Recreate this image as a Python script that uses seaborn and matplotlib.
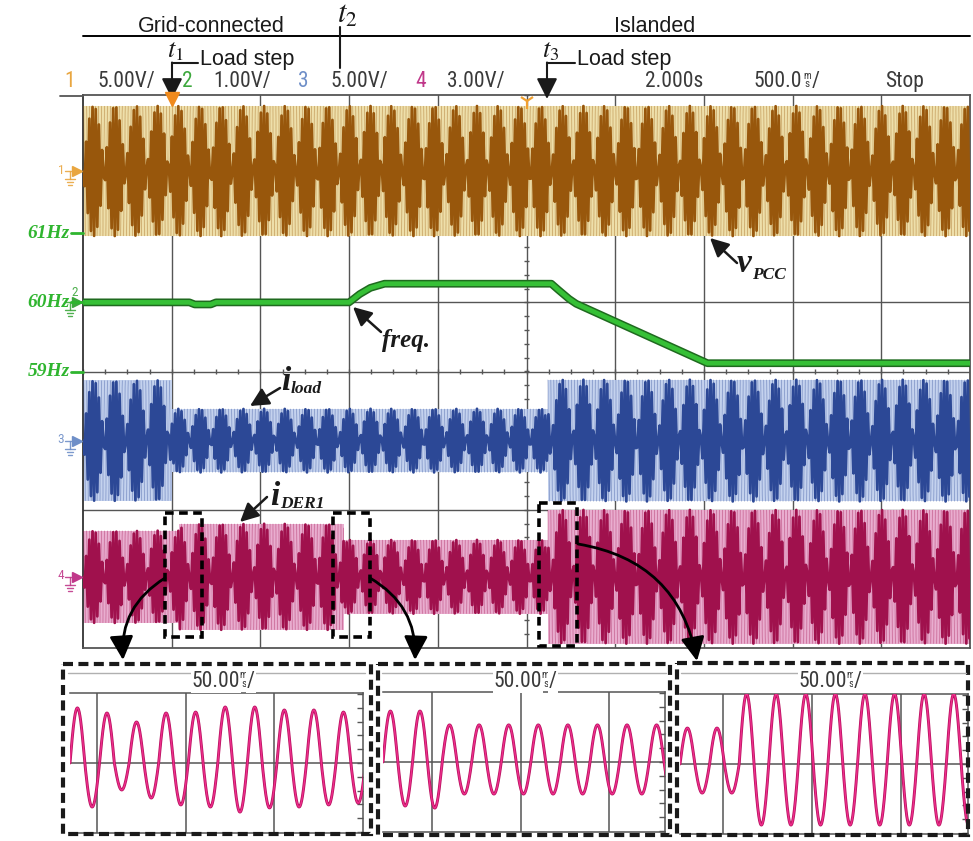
import numpy as np
import matplotlib
matplotlib.use("Agg")
import matplotlib.pyplot as plt
from matplotlib import font_manager
from matplotlib.patches import Rectangle, FancyArrowPatch
import seaborn as sns

# ---------------- data ----------------
channel_ids = ["1", "2", "3", "4"]
channel_scales = ["5.00V/", "1.00V/", "5.00V/", "3.00V/"]
volts_per_div = [5.0, 1.0, 5.0, 3.0]
trace_offsets_div = [2.9, 1.0, -1.0, -2.97]
record_length_s = 5.0
time_per_div_s = 0.5
line_freq_hz = 60.0
freq_ref_hz = 60.0
freq_labels = ["61Hz", "60Hz", "59Hz"]
freq_label_values = [61.0, 60.0, 59.0]

# AC amplitude by segment: segment start time (s) and peak value (V)
vpcc_seg_start = [0.0]
vpcc_seg_amp = [4.7]
iload_seg_start = [0.0, 0.50, 2.62]
iload_seg_amp = [4.35, 2.3, 4.4]
ider_seg_start = [0.0, 0.54, 1.47, 2.62]
ider_seg_amp = [2.0, 2.3, 1.6, 2.9]

# measured frequency (Hz) at breakpoints (s)
freq_time = [0.0, 0.60, 0.63, 0.72, 0.75, 1.50, 1.56, 1.62, 1.70,
             2.64, 2.68, 2.74, 2.78, 3.52, 5.0]
freq_hz = [60.0, 60.0, 59.97, 59.97, 60.0, 60.0, 60.12, 60.21, 60.27,
           60.27, 60.18, 60.05, 59.98, 59.12, 59.12]

# zoomed i_DER1 windows: peak and trough of each cycle (V)
inset1_peak = [2.39, 2.17, 1.78, 2.17, 2.21, 2.43, 2.43, 2.30, 2.30, 2.21]
inset1_trough = [1.91, 1.17, 1.52, 1.82, 1.91, 2.13, 1.95, 1.91, 1.82, 1.74]
inset2_peak = [2.21, 2.21, 1.61, 1.61, 1.61, 1.61, 1.61, 1.61, 1.61, 1.61]
inset2_trough = [1.91, 2.00, 1.39, 1.39, 1.39, 1.39, 1.39, 1.39, 1.39, 1.39]
inset3_peak = [1.56, 1.56, 3.04, 3.04, 3.04, 3.04, 3.04, 3.04, 3.04, 3.04]
inset3_trough = [1.26, 1.26, 2.65, 2.65, 2.65, 2.65, 2.65, 2.65, 2.65, 2.65]
inset_time_per_div_ms = 50.0
inset_volts_per_div = 3.0

# ---------------- style ----------------
sns.set_theme(style="white")
plt.rcParams["font.family"] = ["Liberation Sans", "DejaVu Sans"]
plt.rcParams["mathtext.fontset"] = "stix"
plt.rcParams["axes.unicode_minus"] = False

_names = {f.name for f in font_manager.fontManager.ttflist}
scope_family = next((f for f in ["Liberation Sans Narrow", "DejaVu Sans Condensed",
                                 "Roboto Condensed", "Open Sans Condensed"] if f in _names),
                    "DejaVu Sans")
narrow = scope_family != "DejaVu Sans"
scope_fs = 15.5 if narrow else 12.0
serif = ["Liberation Serif", "DejaVu Serif"]

ch_dark = ["#98570C", "#1f6a1f", "#2C4896", "#A0114D"]
ch_light = ["#EEDFAA", "#36c036", "#C4D2EE", "#E9ADCF"]
ch_tag = ["#E9A640", "#3DA83D", "#6F8FC8", "#C0388A"]
label_green = "#2FB52F"
scope_grey = "#3a3a3a"
grid_col = "#555555"
sample_period_s = 0.5373 / line_freq_hz

W, H = 973, 841
fig = plt.figure(figsize=(W / 100, H / 100), dpi=100, facecolor="white")


def px_axes(x0, y0, x1, y1, **kw):
    return fig.add_axes([x0 / W, 1 - y1 / H, (x1 - x0) / W, (y1 - y0) / H], **kw)


def amp_at(t, starts, amps):
    idx = np.searchsorted(np.asarray(starts), t, side="right") - 1
    return np.asarray(amps)[idx]


# ---------------- main scope screen ----------------
main = px_axes(83, 95, 970, 648)
main.set_xlim(0, record_length_s)
main.set_ylim(-4, 4)
main.set_xticks([])
main.set_yticks([])
main.set_facecolor("white")
for s, sp in main.spines.items():
    sp.set_color("#333333" if s == "left" else grid_col)
    sp.set_linewidth(1.3)
for k in range(1, 10):
    main.axvline(k * time_per_div_s, color=grid_col, lw=1.0, zorder=1)
for k in range(-3, 4):
    main.axhline(k, color=grid_col, lw=1.0, zorder=1)
main.vlines(np.arange(0, record_length_s + 1e-9, time_per_div_s / 4), -0.04, 0.04,
            color=grid_col, lw=1.0, zorder=1)
main.hlines(np.arange(-4, 4 + 1e-9, 0.2), record_length_s / 2 - 0.015,
            record_length_s / 2 + 0.015, color=grid_col, lw=1.0, zorder=1)


def draw_ac(ax, starts, amps, vdiv, offset, dark, light):
    # peak envelope of the 60 Hz waveform
    edges = np.array(list(starts) + [record_length_s])
    env = np.array(list(amps) + [amps[-1]]) / vdiv
    ax.fill_between(edges, offset - env, offset + env, step="post",
                    color=light, lw=0, zorder=2)
    # full-rate waveform, faint texture
    t = np.linspace(0, record_length_s, 24001)
    y = offset + amp_at(t, starts, amps) / vdiv * np.sin(2 * np.pi * line_freq_hz * t)
    sns.lineplot(x=t, y=y, ax=ax, color=dark, linewidth=0.3, alpha=0.4,
                 estimator=None, sort=False, zorder=3)
    # decimated acquisition record (aliases into the beat pattern)
    ts = np.arange(0, record_length_s, sample_period_s)
    ys = offset + amp_at(ts, starts, amps) / vdiv * np.sin(2 * np.pi * line_freq_hz * ts)
    sns.lineplot(x=ts, y=ys, ax=ax, color=dark, linewidth=2.0,
                 estimator=None, sort=False, zorder=4)


draw_ac(main, vpcc_seg_start, vpcc_seg_amp, volts_per_div[0], trace_offsets_div[0],
        ch_dark[0], ch_light[0])
draw_ac(main, iload_seg_start, iload_seg_amp, volts_per_div[2], trace_offsets_div[2],
        ch_dark[2], ch_light[2])
draw_ac(main, ider_seg_start, ider_seg_amp, volts_per_div[3], trace_offsets_div[3],
        ch_dark[3], ch_light[3])

freq_div = trace_offsets_div[1] + (np.array(freq_hz) - freq_ref_hz) / volts_per_div[1]
sns.lineplot(x=freq_time, y=freq_div, ax=main, color=ch_dark[1], linewidth=5.6,
             estimator=None, sort=False, zorder=5)
sns.lineplot(x=freq_time, y=freq_div, ax=main, color=ch_light[1], linewidth=3.4,
             estimator=None, sort=False, zorder=6)
main.set_xlabel("")
main.set_ylabel("")


def to_px(x, y):
    X, Y = main.transData.transform((x, y))
    return X, H - Y


# ---------------- zoomed windows ----------------
def draw_inset(box, xlim, peaks, troughs):
    x0, y0, x1, y1 = box
    ax = px_axes(x0, y0, x1, y1)
    ax.set_xlim(*xlim)
    ax.set_ylim(-1.013, 1.013)
    ax.set_facecolor("white")
    ax.spines["left"].set_visible(False)
    for s in ["top", "bottom", "right"]:
        ax.spines[s].set_color(grid_col)
        ax.spines[s].set_linewidth(1.1)
    ax.set_xticks([])
    ax.yaxis.tick_right()
    ax.set_yticks(np.arange(-1.0, 1.0001, 0.2))
    ax.tick_params(axis="y", direction="in", length=4, width=1, color=grid_col,
                   right=True, labelright=False, left=False, labelleft=False)
    g = np.arange(0, xlim[1], inset_time_per_div_ms)
    for gx in g[(g > xlim[0] + 1) & (g < xlim[1] - 1)]:
        ax.axvline(gx, color=grid_col, lw=1.1, zorder=1)
    ax.axhline(0, color=grid_col, lw=1.1, zorder=1)
    period = 1000.0 / line_freq_hz
    th = np.linspace(0, 2 * np.pi, 81)
    ts, ys = [], []
    for k, (p, q) in enumerate(zip(peaks, troughs)):
        s = np.sin(th)
        ts.append(xlim[0] + (k + th / (2 * np.pi)) * period)
        ys.append(np.where(s >= 0, p * s, q * s) / inset_volts_per_div)
    ts = np.concatenate(ts)
    ys = np.concatenate(ys)
    sns.lineplot(x=ts, y=ys, ax=ax, color="#B8105F", linewidth=2.1,
                 estimator=None, sort=False, zorder=3)
    sns.lineplot(x=ts, y=ys, ax=ax, color="#EE2F8C", linewidth=1.0,
                 estimator=None, sort=False, zorder=4)
    ax.set_xlabel("")
    ax.set_ylabel("")
    return ax


draw_inset((70, 693, 363, 833), (-15.2, 150.0), inset1_peak, inset1_trough)
draw_inset((383, 692, 665, 832), (-27.6, 131.3), inset2_peak, inset2_trough)
draw_inset((680, 694, 968, 834), (-24.2, 138.0), inset3_peak, inset3_trough)

# ---------------- overlay: labels, markers, arrows ----------------
ov = fig.add_axes([0, 0, 1, 1], zorder=5)
ov.set_xlim(0, W)
ov.set_ylim(H, 0)
ov.axis("off")
ov.patch.set_alpha(0)

# frame line continuing left of the screen
ov.plot([60, 83], [95.5, 95.5], color=grid_col, lw=1.3)

# header: channel scales, timebase
hdr_base = 87
header_num_x = [70, 187, 303, 421]
header_val_x = [97, 213, 330, 447]
for cid, sc, xn, xv, col in zip(channel_ids, channel_scales, header_num_x, header_val_x, ch_tag):
    ov.text(xn, hdr_base, cid, color=col, fontsize=scope_fs, family=scope_family,
            ha="center", va="baseline")
    ov.text(xv, hdr_base, sc, color=scope_grey, fontsize=scope_fs, family=scope_family,
            ha="left", va="baseline")
ov.text(645, hdr_base, "2.000s", color=scope_grey, fontsize=scope_fs, family=scope_family,
        ha="left", va="baseline")
ov.text(885, hdr_base, "Stop", color=scope_grey, fontsize=scope_fs, family=scope_family,
        ha="left", va="baseline")


def rate_label(num_right, base, number, unit_x, slash_x, bg):
    kw = dict(family=scope_family, color=scope_grey, va="baseline")
    bb = dict(facecolor="white", edgecolor="none", pad=0.6) if bg else None
    ov.text(num_right, base, number, ha="right", fontsize=scope_fs, bbox=bb, **kw)
    ov.text(unit_x, base - 8.5, "m", ha="center", fontsize=7.5, bbox=bb, **kw)
    ov.text(unit_x, base, "s", ha="center", fontsize=8, **kw)
    ov.text(slash_x, base, "/", ha="left", fontsize=scope_fs, bbox=bb, **kw)


rate_label(802, hdr_base, "500.0", 807, 812, False)

# trigger markers
ov.plot([172], [99], marker="v", ms=10, color="#F08A1C", mec="#F08A1C", ls="none")
ov.plot([527], [101], marker="1", ms=11, mew=1.6, color="#F0A030", ls="none")

# mode captions and top rule
ov.plot([83, 970], [36, 36], color="black", lw=1.4)
ov.text(211, 31.5, "Grid-connected", fontsize=15.5, ha="center", va="baseline", color="#1a1a1a")
ov.text(655, 31.5, "Islanded", fontsize=15.5, ha="center", va="baseline", color="#1a1a1a")

# event markers
ov.text(337, 23, r"$t_{\mathit{2}}$", fontsize=22, ha="left", va="baseline", color="#1a1a1a")
ov.plot([340, 340], [27, 68], color="#1a1a1a", lw=1.5)
for tx, lx, lbl in [(172, 200, r"$t_{\mathit{1}}$"), (547, 577, r"$t_{\mathit{3}}$")]:
    ov.text(tx - 5, 57, lbl, fontsize=19, ha="left", va="baseline", color="#1a1a1a")
    ov.plot([tx, lx - 2], [63, 63], color="#1a1a1a", lw=1.5)
    ov.add_patch(FancyArrowPatch((tx, 62.5), (tx, 99), arrowstyle="-|>,head_length=0.7,head_width=0.35",
                                 mutation_scale=18, color="#1a1a1a", lw=1.5, shrinkA=0, shrinkB=0))
    ov.text(lx, 64.5, "Load step", fontsize=15.5, ha="left", va="baseline", color="#1a1a1a")


# channel ground markers
def ground_marker(y, label, color, tag_xy):
    ov.text(tag_xy[0], tag_xy[1], label, color=color, fontsize=9.5, family=scope_family,
            ha="center", va="center", alpha=0.9)
    ov.plot([65, 75], [y, y], color=color, lw=1.0, alpha=0.9)
    ov.plot([77], [y], marker=">", ms=7, color=color, ls="none")
    ov.plot([70, 70], [y, y + 8], color=color, lw=1.0, alpha=0.9)
    for dy, hw in [(8, 5), (11, 3.2), (14, 1.6)]:
        ov.plot([70 - hw, 70 + hw], [y + dy, y + dy], color=color, lw=1.0, alpha=0.9)


for off, cid, col in zip(trace_offsets_div, channel_ids, ch_tag):
    _, yp = to_px(0, off)
    tag = (75, yp - 10) if cid == "2" else (61, yp - 1)
    ground_marker(yp, cid, col, tag)

# frequency scale labels
for lbl, val in zip(freq_labels, freq_label_values):
    _, yp = to_px(0, trace_offsets_div[1] + (val - freq_ref_hz) / volts_per_div[1])
    ov.plot([71, 83], [yp, yp], color=label_green, lw=2.0)
    ov.text(70, yp, lbl, color=label_green, fontsize=14, family=serif, fontweight="bold",
            fontstyle="italic", ha="right", va="center")


def name_arrow(p0, p1):
    ov.add_patch(FancyArrowPatch(p0, p1, arrowstyle="-|>,head_length=0.7,head_width=0.35",
                                 mutation_scale=16, color="#1a1a1a", lw=1.8,
                                 shrinkA=0, shrinkB=0))


name_kw = dict(family=serif, fontweight="bold", fontstyle="italic", ha="left",
               va="baseline", color="#1a1a1a")
ov.text(737, 271.5, "v", fontsize=24, **name_kw)
ov.text(752, 279, "PCC", fontsize=12.5, **name_kw)
name_arrow((737, 263), (710, 238))

ov.text(382, 347, "freq.", fontsize=18, **name_kw)
name_arrow((381, 332), (353, 307))

ov.text(281, 390, "i", fontsize=24, **name_kw)
ov.text(291, 393, "load", fontsize=12.5, **name_kw)
name_arrow((280, 388), (250, 406))

ov.text(270, 505, "i", fontsize=24, **name_kw)
ov.text(280, 508, "DER1", fontsize=12.5, **name_kw)
name_arrow((267, 497), (240, 522))

# zoom windows on the main screen
dash_main = dict(fill=False, ec="black", lw=2.6, ls=(0, (2.4, 1.5)))
for (x0, y0, x1, y1) in [(165, 513, 202, 637), (333, 513, 370, 637), (539, 503, 577, 646)]:
    ov.add_patch(Rectangle((x0, y0), x1 - x0, y1 - y0, **dash_main))

# borders of the zoomed windows
dash_inset = dict(fill=False, ec="#1a1a1a", lw=3.0, ls=(0, (2.4, 1.3)))
for (x0, y0, x1, y1) in [(63, 664, 371, 834), (378, 664, 670, 835), (677, 663, 968, 835)]:
    ov.add_patch(Rectangle((x0, y0), x1 - x0, y1 - y0, **dash_inset))

# window captions
for (gx0, gx1, num_r, ux, sx) in [(68, 365, 240, 243.5, 247), (382, 666, 542, 545.5, 549),
                                   (681, 966, 847, 850.5, 854)]:
    ov.plot([gx0, gx1], [673, 673], color="#b0b0b0", lw=1.0)
    rate_label(num_r, 687, "50.00", ux, sx, True)

# curved arrows from windows to zoomed views
for p0, p1, rad in [((165, 578), (123, 660), 0.3), ((370, 578), (415, 660), -0.3),
                    ((578, 544), (697, 661), -0.35)]:
    ov.add_patch(FancyArrowPatch(p0, p1, connectionstyle=f"arc3,rad={rad}",
                                 arrowstyle="-|>,head_length=0.8,head_width=0.4",
                                 mutation_scale=18, color="black", lw=2.0,
                                 shrinkA=0, shrinkB=0))

fig.savefig("out.png", dpi=100, facecolor="white")
